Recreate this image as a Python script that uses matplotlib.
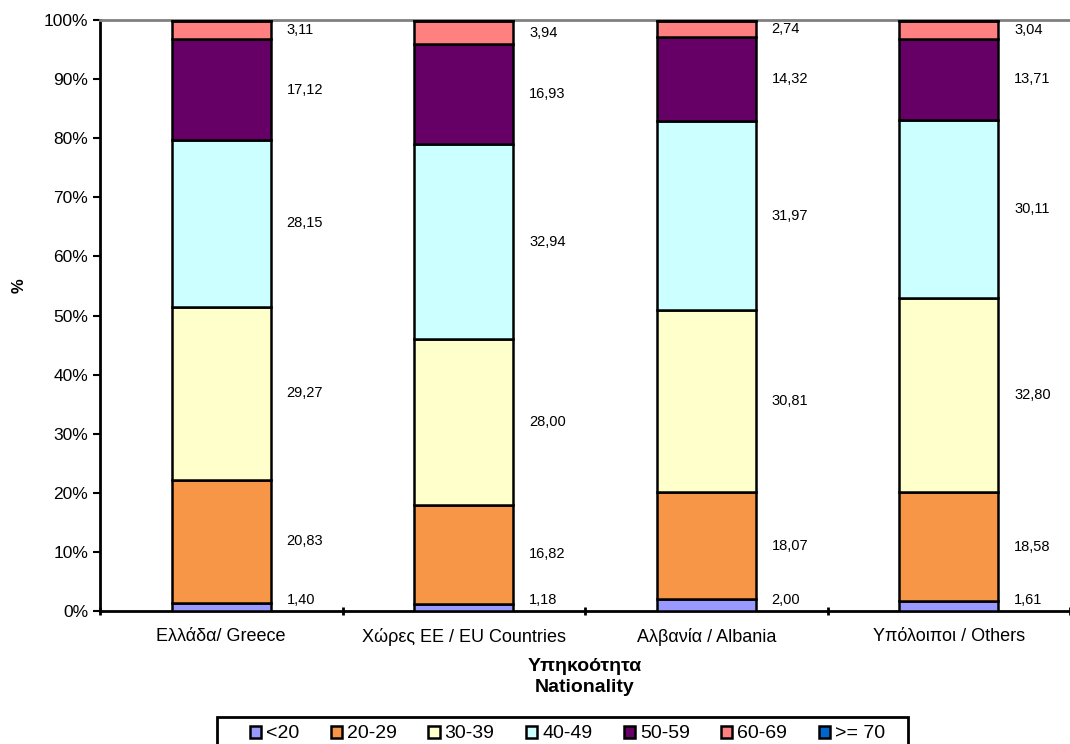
import matplotlib
matplotlib.use("Agg")
import matplotlib.pyplot as plt
import numpy as np
from matplotlib.patches import Rectangle
from matplotlib.ticker import PercentFormatter

plt.rcParams["font.family"] = ["Liberation Sans", "DejaVu Sans"]

categories = ["Ελλάδα/ Greece", "Χώρες ΕΕ / EU Countries", "Αλβανία / Albania", "Υπόλοιποι / Others"]
age_groups = ["<20", "20-29", "30-39", "40-49", "50-59", "60-69", ">= 70"]
colors = ["#9999FF", "#F79646", "#FFFFCC", "#CCFFFF", "#660066", "#FF8080", "#0066CC"]

# shares per age group (rows) for each nationality (columns)
u20 = [1.40, 1.18, 2.00, 1.61]
a20_29 = [20.83, 16.82, 18.07, 18.58]
a30_39 = [29.27, 28.00, 30.81, 32.80]
a40_49 = [28.15, 32.94, 31.97, 30.11]
a50_59 = [17.12, 16.93, 14.32, 13.71]
a60_69 = [3.11, 3.94, 2.74, 3.04]
o70 = [0.12, 0.19, 0.09, 0.15]

series = np.array([u20, a20_29, a30_39, a40_49, a50_59, a60_69, o70])
totals = series.sum(axis=0)
shares = series / totals * 100

W, H = 1070, 744
fig = plt.figure(figsize=(W / 100, H / 100), dpi=100)
ax = fig.add_axes([100 / W, 1 - 611 / H, 970 / W, 591 / H])

x = np.arange(len(categories))
width = 0.41
bottom = np.zeros(len(categories))
for i, name in enumerate(age_groups):
    ax.bar(x, shares[i], width, bottom=bottom, color=colors[i], edgecolor="black",
           linewidth=1.8, label=name, zorder=3)
    if i < 6:
        for j in range(len(categories)):
            ymid = max(bottom[j] + shares[i][j] / 2, 1.8)
            ax.text(x[j] + 0.27, ymid, f"{series[i][j]:.2f}".replace(".", ","),
                    fontsize=10.5, va="center", ha="left")
    bottom += shares[i]

ax.set_xlim(-0.5, len(categories) - 0.5)
ax.set_ylim(0, 100)
ax.set_yticks(np.arange(0, 101, 10))
ax.yaxis.set_major_formatter(PercentFormatter(decimals=0))
ax.set_xticks(x)
ax.set_xticklabels(categories, fontsize=13)
ax.set_xticks(np.arange(-0.5, len(categories), 1), minor=True)
ax.tick_params(axis="x", which="major", length=0, pad=12)
ax.tick_params(axis="x", which="minor", length=6, width=2, direction="inout")
ax.tick_params(axis="y", labelsize=12.5, length=5, width=1.5, direction="out")

ax.spines["left"].set_linewidth(2)
ax.spines["bottom"].set_linewidth(2)
ax.spines["top"].set_color("#808080")
ax.spines["top"].set_linewidth(2)
ax.spines["right"].set_visible(False)

ax.set_ylabel("%", fontsize=12, fontweight="bold")
ax.yaxis.set_label_coords(-0.076, 0.55)
ax.set_xlabel("Υπηκοότητα\nNationality", fontsize=14, fontweight="bold", labelpad=9,
              linespacing=1.3)

# legend box, open at the bottom edge like the original
fig.patches.append(Rectangle((217 / W, -0.05), (908 - 217) / W, 0.05 + 1 - 717 / H,
                             transform=fig.transFigure, fill=False, edgecolor="black",
                             linewidth=2))
leg = fig.legend(loc="center left", bbox_to_anchor=(250 / W, 1 - 734 / H), ncol=7,
                 frameon=False, fontsize=14,
                 handlelength=0.58, handleheight=0.58, handletextpad=0.25,
                 columnspacing=1.62, borderpad=0, borderaxespad=0)

fig.savefig("out.png", dpi=100)
